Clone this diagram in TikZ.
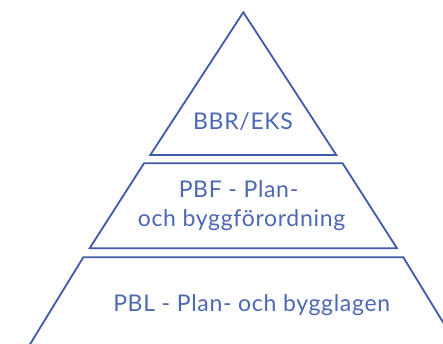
\documentclass[tikz,border=0pt]{standalone}
\usepackage{fontspec}
\setmainfont{Lato}[LetterSpace=3]
\definecolor{pyrline}{HTML}{3F5AA9}
\definecolor{pyrtext}{HTML}{4D68B3}
\begin{document}
\begin{tikzpicture}[x=1pt,y=-1pt,
  layer/.style={draw=pyrline,line width=1.8pt,line join=miter,fill=white},
  lbl/.style={text=pyrtext,font=\fontsize{23}{28}\selectfont,inner sep=0pt,anchor=base,align=center}]
\useasboundingbox (0,0) rectangle (443,344);
% top triangle
\draw[layer] (243.3,12.3) -- (336.3,155) -- (150.3,155) -- cycle;
% middle trapezoid
\draw[layer] (144,163.3) -- (342.6,163.3) -- (397,248.3) -- (89.6,248.3) -- cycle;
% bottom trapezoid
\draw[layer] (26.5,350) -- (83.3,257.3) -- (403.3,257.3) -- (460,350);
\node[lbl] (top) at (243,130) {BBR/EKS};
\node[lbl] (mid1) at (238.5,198) {PBF - Plan-};
\node[lbl] (mid2) at (241.5,226) {och byggförordning};
\node[lbl] (bot) at (251.7,311) {PBL - Plan- och bygglagen};
\end{tikzpicture}
\end{document}
